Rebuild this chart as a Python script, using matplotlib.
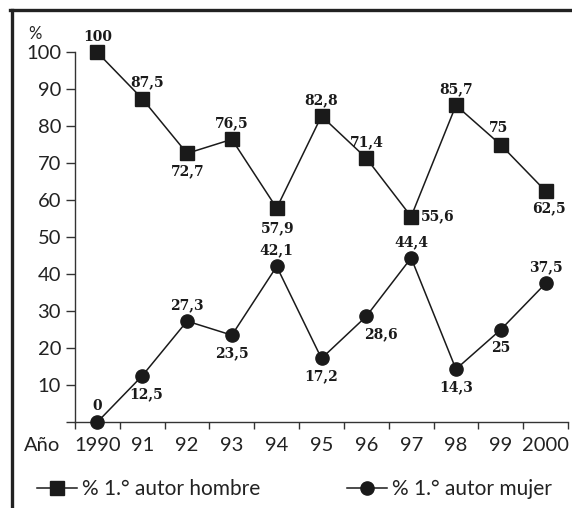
import numpy as np
import matplotlib
matplotlib.use("Agg")
import matplotlib.pyplot as plt
from matplotlib.lines import Line2D

years = ["1990", "91", "92", "93", "94", "95", "96", "97", "98", "99", "2000"]
hombre = [100, 87.5, 72.7, 76.5, 57.9, 82.8, 71.4, 55.6, 85.7, 75, 62.5]
mujer = [0, 12.5, 27.3, 23.5, 42.1, 17.2, 28.6, 44.4, 14.3, 25, 37.5]
hombre_labels = ["100", "87,5", "72,7", "76,5", "57,9", "82,8", "71,4", "55,6", "85,7", "75", "62,5"]
mujer_labels = ["0", "12,5", "27,3", "23,5", "42,1", "17,2", "28,6", "44,4", "14,3", "25", "37,5"]
yticks = [0, 10, 20, 30, 40, 50, 60, 70, 80, 90, 100]

# label offsets in pixels (dx, dy)
hombre_off = [(0, 15), (5, 16), (1, -18), (0, 16), (1, -20), (0, 16), (0, 16), ("r", 0), (0, 16), (-2, 17), (3, -17)]
mujer_off = [(0, 16), (4, -18), (0, 16), (0, -18), (0, 16), (0, -18), (15, -18), (0, 16), (0, -18), (0, -18), (0, 16)]

W, H = 572, 508
fig = plt.figure(figsize=(W / 100, H / 100), dpi=100)
L, R, T, B = 75, 568, 52.5, 422
ax = fig.add_axes([L / W, 1 - B / H, (R - L) / W, (B - T) / H])

x = np.arange(len(years))
tick_font = "Lato"
lab_font = "DejaVu Serif"
tfs = 14.5
lfs = 15
xpad = 11

ax.plot(x, hombre, color="#1a1a1a", lw=1.1, marker="s", ms=9.5, clip_on=False, zorder=3,
        label="% 1.° autor hombre")
ax.plot(x, mujer, color="#1a1a1a", lw=1.1, marker="o", ms=9.5, clip_on=False, zorder=3,
        label="% 1.° autor mujer")

for xi, v, s, (dx, dy) in zip(x, hombre, hombre_labels, hombre_off):
    if dx == "r":
        ax.annotate(s, (xi, v), xytext=(10, 0), textcoords="offset pixels", ha="left", va="center",
                    fontsize=10, fontweight="bold", family=lab_font, color="#1a1a1a")
    else:
        ax.annotate(s, (xi, v), xytext=(dx, dy), textcoords="offset pixels", ha="center", va="center",
                    fontsize=10, fontweight="bold", family=lab_font, color="#1a1a1a")
for xi, v, s, (dx, dy) in zip(x, mujer, mujer_labels, mujer_off):
    ax.annotate(s, (xi, v), xytext=(dx, dy), textcoords="offset pixels", ha="center", va="center",
                fontsize=10, fontweight="bold", family=lab_font, color="#1a1a1a")

ax.set_xlim(-0.5, len(years) - 0.5)
ax.set_ylim(0, 100)
ax.set_xticks(np.arange(-0.5, len(years), 1.0))
ax.set_xticklabels([])
ax.set_xticks(x, minor=True)
ax.set_xticklabels(years, minor=True, family=tick_font, fontsize=tfs, color="#222222")
ax.tick_params(axis="x", which="major", direction="out", length=5, width=1, color="#333333")
ax.tick_params(axis="x", which="minor", length=0, pad=xpad)
ax.set_yticks(yticks)
ax.set_yticklabels(["" if t == 0 else str(t) for t in yticks], family=tick_font, fontsize=tfs,
                   color="#222222")
ax.tick_params(axis="y", direction="out", length=6.5, width=1, pad=3.5, color="#333333")

for sp in ["top", "right"]:
    ax.spines[sp].set_visible(False)
for sp in ["left", "bottom"]:
    ax.spines[sp].set_color("#333333")
    ax.spines[sp].set_linewidth(1)

fig.text(60 / W, 1 - (B + xpad * 100 / 72) / H, "Año", ha="right", va="top", family=tick_font,
         fontsize=tfs, color="#222222")
fig.text(35 / W, 1 - 34 / H, "%", ha="center", va="center", family=tick_font, fontsize=12,
         color="#222222")

h1, h2 = ax.get_lines()[:2]
leg1 = fig.legend([h1], [h1.get_label()], loc="center left", bbox_to_anchor=(37 / W, 1 - 489 / H),
                  frameon=False, handlelength=1.9, handletextpad=0.25, borderpad=0, borderaxespad=0,
                  prop={"family": tick_font, "size": lfs})
leg2 = fig.legend([h2], [h2.get_label()], loc="center left", bbox_to_anchor=(347 / W, 1 - 489 / H),
                  frameon=False, handlelength=1.9, handletextpad=0.25, borderpad=0, borderaxespad=0,
                  prop={"family": tick_font, "size": lfs})
for lg in (leg1, leg2):
    for t in lg.get_texts():
        t.set_color("#222222")

fig.add_artist(Line2D([10 / W, 1], [1 - 10 / H, 1 - 10 / H], transform=fig.transFigure,
                      color="#222222", lw=2.4))
fig.add_artist(Line2D([12 / W, 12 / W], [0, 1 - 10 / H], transform=fig.transFigure,
                      color="#222222", lw=2.4))

fig.savefig("out.png", dpi=100)
